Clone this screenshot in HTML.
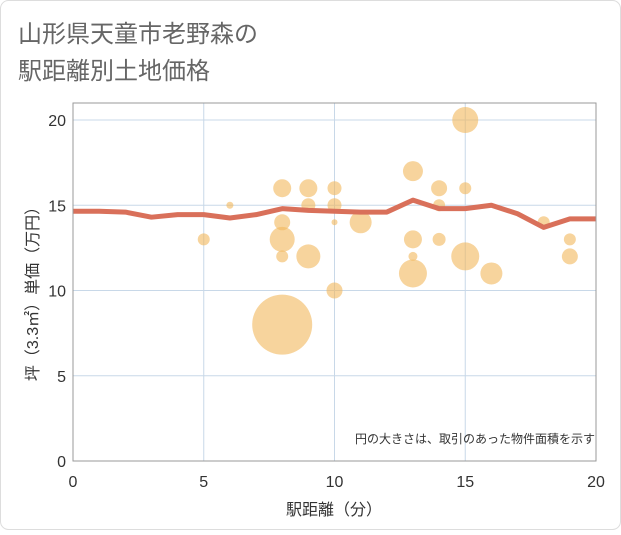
<!DOCTYPE html>
<html><head><meta charset="utf-8"><style>
body{margin:0;background:#fff;}
svg text{font-family:"Liberation Sans","Noto Sans CJK JP",sans-serif;}
</style></head><body>
<svg width="621" height="530" xmlns="http://www.w3.org/2000/svg">
<rect x="0.5" y="0.5" width="620" height="529" rx="8" fill="#fff" stroke="#ddd"/>
<text x="18" y="42" font-size="24" fill="#666">山形県天童市老野森の</text>
<text x="18" y="79" font-size="24" fill="#666">駅距離別土地価格</text>
<g id="grid"></g>
<g id="bubbles"></g>
<g id="line"></g>
<rect x="73" y="103" width="523" height="358" fill="none" stroke="#999"/>
<g id="ticks"></g>
<text x="595" y="443" font-size="12" fill="#333" text-anchor="end">円の大きさは、取引のあった物件面積を示す</text>
<text x="334" y="515" font-size="16" fill="#333" text-anchor="middle">駅距離（分）</text>
<text transform="translate(38,290) rotate(-90)" font-size="16" fill="#333" text-anchor="middle">坪（3.3㎡）単価（万円）</text>
</svg>
<script>
const xTicks=[0,5,10,15,20];
const yTicks=[0,5,10,15,20];
const bubbleX=[5,6,8,8,8,8,8,9,9,9,10,10,10,10,11,13,13,13,13,14,14,14,15,15,15,16,18,19,19];
const bubbleY=[13,15,16,14,13,12,8,16,15,12,16,15,14,10,14,17,13,12,11,16,15,13,20,16,12,11,14,13,12];
const bubbleR=[6,3.5,9,8,12.5,6,30,9,7,12,7,7,3,8,11,10,9,4.5,14,8,6,6.5,13,6,14,11,6,6,8];
const lineX=[0,1,2,3,4,5,6,7,8,9,10,11,12,13,14,15,16,17,18,19,20];
const lineY=[14.65,14.65,14.6,14.3,14.45,14.45,14.25,14.45,14.8,14.7,14.65,14.6,14.6,15.3,14.8,14.8,15.0,14.5,13.7,14.2,14.2];
const NS='http://www.w3.org/2000/svg';
const sx=v=>73+v*(523/20);
const sy=v=>461-v*(341/20);
function mk(t,a,p){const e=document.createElementNS(NS,t);for(const k in a)e.setAttribute(k,a[k]);document.getElementById(p).appendChild(e);return e;}
xTicks.forEach(v=>{
 const g=mk('line',{x1:sx(v),x2:sx(v),y1:103,y2:461,stroke:'#c8d8e8','stroke-width':1},'grid');
 
 
 const t=mk('text',{x:sx(v),y:487,'font-size':16,fill:'#333','text-anchor':'middle'},'ticks');t.textContent=v;
 
 
});
yTicks.forEach(v=>{
 const g=mk('line',{x1:73,x2:596,y1:sy(v),y2:sy(v),stroke:'#c8d8e8','stroke-width':1},'grid');
 
 
 const t=mk('text',{x:66,y:sy(v)+6,'font-size':16,fill:'#333','text-anchor':'end'},'ticks');t.textContent=v;
 
 
});
bubbleX.forEach((x,i)=>{
 const c=mk('circle',{cx:sx(x),cy:sy(bubbleY[i]),r:bubbleR[i],fill:'rgba(242,184,92,0.6)'},'bubbles');
 
 
});
const p=mk('polyline',{points:lineX.map((x,i)=>sx(x)+','+sy(lineY[i])).join(' '),fill:'none',stroke:'#d9705a','stroke-width':5,'stroke-linejoin':'round'},'line');


</script>
</body></html>
